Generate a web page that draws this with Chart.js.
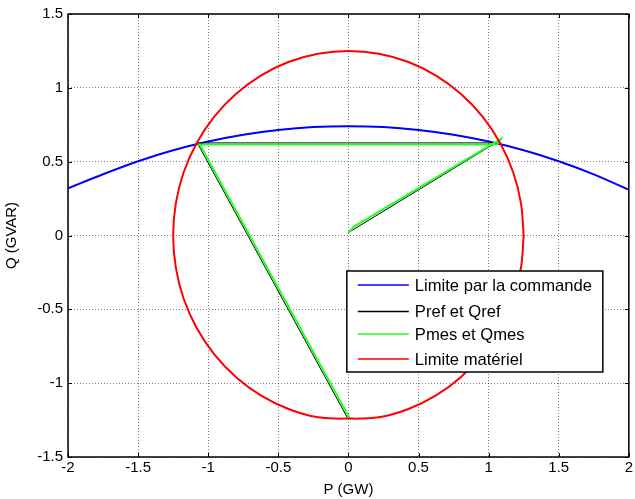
<!DOCTYPE html>
<html>
<head>
<meta charset="utf-8">
<script src="https://cdn.jsdelivr.net/npm/chart.js@4"></script>
<style>
html,body{margin:0;padding:0;background:#fff;}
#wrap{width:635px;height:499px;}
</style>
</head>
<body>
<div id="wrap"><canvas id="pqChart"></canvas></div>
<script>

/* =====================
   Data
===================== */

const legendLabels=["Limite par la commande","Pref et Qref","Pmes et Qmes","Limite matériel"];

const legendColors=["#0000ff","#000000","#22ff22","#ff0000"];

const xTicks=[-2,-1.5,-1,-0.5,0,0.5,1,1.5,2];

const yTicks=[-1.5,-1,-0.5,0,0.5,1,1.5];

// blue: limit from the control
const limP=[-2,-1.75,-1.5,-1.25,-1,-0.75,-0.5,-0.25,0,0.25,0.5,0.75,1,1.25,1.5,1.75,2];
const limQ=[0.32,0.415,0.503,0.577,0.636,0.682,0.714,0.734,0.740,0.734,0.714,0.682,0.636,0.577,0.503,0.414,0.31];

// black: reference trajectory
const refP=[0,1.05,-1.078,-0.007];
const refQ=[0.02,0.627,0.627,-1.235];

// green: measured trajectory
const mesP=[0,0.04,1.087,1.06,-1.075,-1.06,0.012];
const mesQ=[0.02,0.06,0.654,0.616,0.616,0.616,-1.245];

// red: hardware limit (circle)
const hwP=[1.25,1.231,1.175,1.083,0.958,0.803,0.625,0.428,0.217,0,-0.217,-0.428,-0.625,-0.803,-0.958,-1.083,-1.175,-1.231,-1.25,-1.231,-1.175,-1.083,-0.958,-0.803,-0.625,-0.428,-0.217,0,0.217,0.428,0.625,0.803,0.958,1.083,1.175,1.231,1.25];
const hwQ=[0,0.217,0.428,0.625,0.803,0.958,1.083,1.175,1.231,1.25,1.231,1.175,1.083,0.958,0.803,0.625,0.428,0.217,0,-0.217,-0.428,-0.625,-0.803,-0.958,-1.083,-1.175,-1.231,-1.24,-1.231,-1.175,-1.083,-0.958,-0.803,-0.625,-0.428,-0.217,0];



function toPoints(xs,ys){

return xs.map((x,i)=>({x:x,y:ys[i]}));

}



/* =====================
   Frame, inward ticks, legend box
===================== */

const matlabLook={

id:"matlabLook",

afterDatasetsDraw(chart){

const c=chart.ctx;
const a=chart.chartArea;
const xs=chart.scales.x;
const ys=chart.scales.y;

c.save();

c.strokeStyle="#000";
c.lineWidth=1;

// small inward ticks
c.beginPath();
xTicks.forEach(t=>{
let px=Math.round(xs.getPixelForValue(t))+0.5;
c.moveTo(px,a.bottom);c.lineTo(px,a.bottom-4);
c.moveTo(px,a.top);c.lineTo(px,a.top+4);
});
yTicks.forEach(t=>{
let py=Math.round(ys.getPixelForValue(t))+0.5;
c.moveTo(a.left,py);c.lineTo(a.left+4,py);
c.moveTo(a.right,py);c.lineTo(a.right-4,py);
});
c.stroke();

// frame
c.lineWidth=1.5;
c.strokeRect(a.left,a.top,a.right-a.left,a.bottom-a.top);

// legend
let bx=a.right-26-256;
let by=a.top+257;
let bw=256;
let bh=101;

c.fillStyle="#fff";
c.fillRect(bx,by,bw,bh);
c.lineWidth=1.5;
c.strokeStyle="#000";
c.strokeRect(bx,by,bw,bh);

const rows=[14,40.5,63,88];

c.font="16.6px 'Liberation Sans', Arial, sans-serif";
c.textBaseline="middle";
c.textAlign="left";

legendLabels.forEach((lab,i)=>{
let ry=by+rows[i];
c.strokeStyle=legendColors[i];
c.lineWidth=1.5;
c.beginPath();
c.moveTo(bx+11,ry);
c.lineTo(bx+62,ry);
c.stroke();
c.fillStyle="#000";
c.fillText(lab,bx+68,ry+1);
});

c.restore();

}

};



/* =====================
   Chart
===================== */

const ctx=document.getElementById("pqChart").getContext("2d");

const tickFont={family:"'Liberation Sans', Arial, sans-serif",size:15};

let pqChart=new Chart(ctx,{

type:"scatter",

data:{

datasets:[

{
label:legendLabels[0],
data:toPoints(limP,limQ),
borderColor:legendColors[0],
borderWidth:2,
tension:0.3,
order:4
},

{
label:legendLabels[1],
data:toPoints(refP,refQ),
borderColor:legendColors[1],
borderWidth:1,
tension:0,
order:3
},

{
label:legendLabels[2],
data:toPoints(mesP,mesQ),
borderColor:legendColors[2],
borderWidth:2,
tension:0,
order:2
},

{
label:legendLabels[3],
data:toPoints(hwP,hwQ),
borderColor:legendColors[3],
borderWidth:2,
tension:0.35,
order:1
}

]

},

options:{

responsive:true,
maintainAspectRatio:false,
animation:false,

showLine:true,

elements:{
point:{radius:0,hoverRadius:0},
line:{fill:false}
},

layout:{
padding:{top:14,right:5,left:3,bottom:0}
},

plugins:{
legend:{display:false},
tooltip:{enabled:false}
},

scales:{

x:{
type:"linear",
min:-2,
max:2,
afterBuildTicks:s=>{s.ticks=xTicks.map(v=>({value:v}));},
afterFit:s=>{s.height=42;},
ticks:{
color:"#000",
font:tickFont,
padding:2,
maxRotation:0,
callback:v=>String(+Number(v).toFixed(2))
},
grid:{
color:"rgba(0,0,0,0.5)",
lineWidth:1,
tickLength:0
},
border:{display:false,dash:[1,2]},
title:{
display:true,
text:"P (GW)",
color:"#000",
font:tickFont,
padding:{top:0,bottom:0}
}
},

y:{
type:"linear",
min:-1.5,
max:1.5,
afterBuildTicks:s=>{s.ticks=yTicks.map(v=>({value:v}));},
afterFit:s=>{s.width=65;},
ticks:{
color:"#000",
font:tickFont,
padding:5,
callback:v=>String(+Number(v).toFixed(2))
},
grid:{
color:"rgba(0,0,0,0.5)",
lineWidth:1,
tickLength:0
},
border:{display:false,dash:[1,2]},
title:{
display:true,
text:"Q (GVAR)",
color:"#000",
font:tickFont,
padding:{top:0,bottom:4}
}
}

}

},

plugins:[matlabLook]

});

</script>
</body>
</html>
